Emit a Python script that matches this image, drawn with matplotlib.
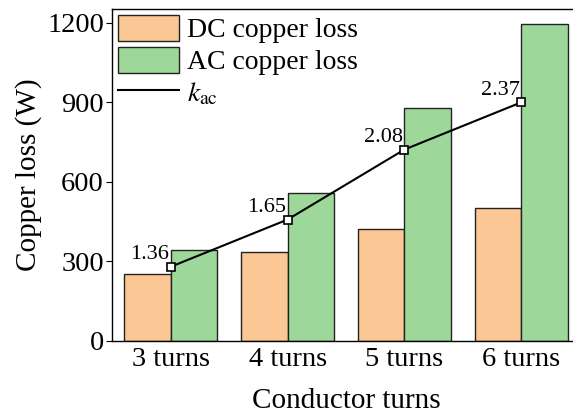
import matplotlib
matplotlib.use("Agg")
import matplotlib.pyplot as plt
import numpy as np

categories = ["3 turns", "4 turns", "5 turns", "6 turns"]
dc_loss = [253, 336, 421, 503]
ac_loss = [343, 557, 878, 1195]
kac = [1.36, 1.65, 2.08, 2.37]
kac_labels = ["1.36", "1.65", "2.08", "2.37"]
yticks = [0, 300, 600, 900, 1200]

plt.rcParams['font.family'] = ['Liberation Serif', 'DejaVu Serif']
plt.rcParams['mathtext.fontset'] = 'stix'

fig = plt.figure(figsize=(5.73, 4.18), dpi=100)
ax = fig.add_axes([112.3/573, 77/418, 467.5/573, 332/418])

x = np.arange(len(categories))
w = 0.4
ax.bar(x - w/2, dc_loss, w, color='#FBC794', edgecolor='#222222', linewidth=1.0, label='DC copper loss')
ax.bar(x + w/2, ac_loss, w, color='#9ED79A', edgecolor='#222222', linewidth=1.0, label='AC copper loss')
ax.set_xlim(-0.5, 3.5)
ax.set_ylim(0, 1252)
ax.set_yticks(yticks)
ax.set_xticks(x)
ax.set_xticklabels(categories)
ax.tick_params(axis='x', length=0, labelsize=20.5, pad=4)
ax.tick_params(axis='y', direction='out', length=4, labelsize=20.5, pad=2)
ax.set_ylabel('Copper loss (W)', fontsize=21, labelpad=4)
ax.set_xlabel('Conductor turns', fontsize=21, labelpad=12)
for s in ax.spines.values():
    s.set_linewidth(1.0)

ax2 = ax.twinx()
ax2.set_ylim(0.904, 2.943)
ax2.axis('off')
line, = ax2.plot(x, kac, color='black', lw=1.5, marker='s', markersize=5.5,
                 markerfacecolor='white', markeredgecolor='black', markeredgewidth=1.2,
                 label=r'$k_{\mathrm{ac}}$')
for xi, k, lab in zip(x, kac, kac_labels):
    ax2.annotate(lab, (xi, k), xytext=(-1, 2), textcoords='offset points',
                 ha='right', va='bottom', fontsize=16)

h1, l1 = ax.get_legend_handles_labels()
leg = ax.legend(h1 + [line], l1 + [r'$k_{\mathrm{ac}}$'], loc='upper left',
                frameon=False, fontsize=20, handlelength=2.2, handleheight=1.1,
                labelspacing=0.12, handletextpad=0.3, borderaxespad=0.15,
                borderpad=0.05)
leg.legend_handles[2].set_marker('')

fig.savefig('out.png', dpi=100)
